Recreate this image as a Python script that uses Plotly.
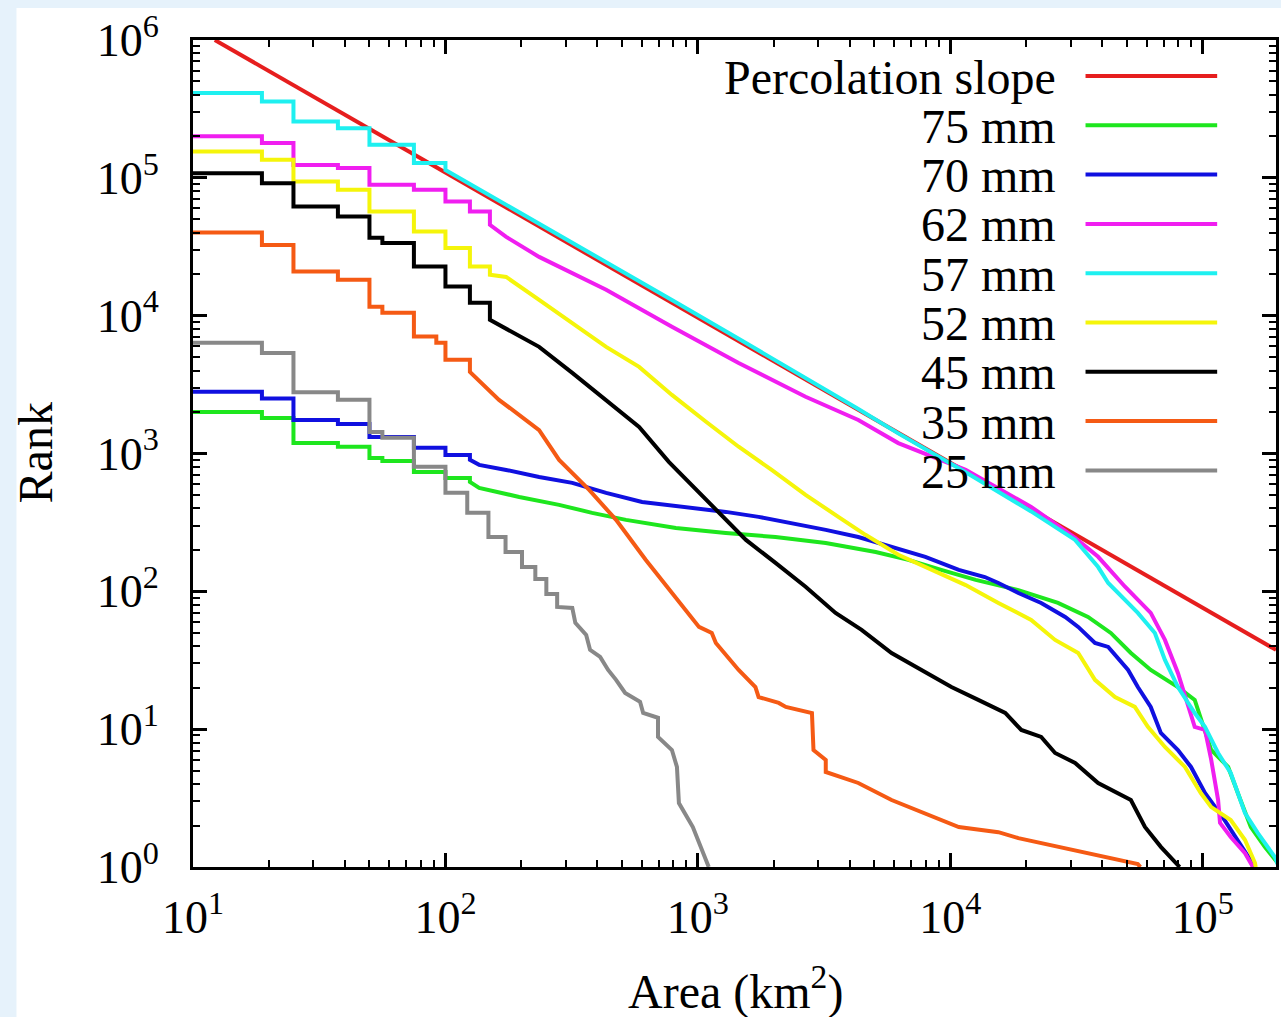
import plotly.graph_objects as go

# ---------------- data (area in km^2, rank) ----------------
perc_area = [12.2, 1.95e5]
perc_rank = [1.0e6, 37.6]

# 75 mm (green)
g75_step_area = [10, 18.75, 25, 37.5, 50, 56.25, 75, 100, 125]
g75_step_rank = [2.0e3, 1.81e3, 1.19e3, 1.12e3, 929, 884, 735, 665, 622]
g75_area = [136, 196, 282, 381, 519, 818, 1290, 2030, 3210, 5060, 6820, 9200, 1.26e4, 1.86e4,
            2.67e4, 3.51e4, 4.32e4, 5.19e4, 6.22e4, 7.97e4, 9.29e4, 1.08e5, 1.26e5, 1.41e5,
            1.55e5, 1.76e5, 1.98e5]
g75_rank = [563, 484, 424, 371, 330, 288, 265, 248, 224, 193, 169, 143, 121, 102,
            82.4, 65.2, 49.9, 35.7, 26.9, 20.2, 16.3, 7.06, 5.32, 3.06,
            1.95, 1.40, 1.07]

# 70 mm (blue)
b70_step_area = [10, 18.75, 25, 37.5, 50, 75, 100, 125]
b70_step_rank = [2.8e3, 2.51e3, 1.75e3, 1.64e3, 1.32e3, 1.1e3, 977, 899]
b70_area = [136, 174, 235, 318, 433, 601, 946, 1290, 1740, 2350, 3210, 4320, 5850, 7960,
            1.08e4, 1.37e4, 1.55e4, 1.86e4, 2.29e4, 2.85e4, 3.21e4, 3.74e4, 4.22e4, 5.06e4,
            5.53e4, 6.22e4, 6.82e4, 7.97e4, 8.98e4, 1.02e5, 1.22e5, 1.37e5, 1.55e5, 1.61e5]
b70_rank = [827, 760, 676, 612, 518, 445, 403, 377, 347, 314, 279, 248, 210, 178,
            143, 127, 115, 97.3, 82.4, 65.2, 55.2, 42.2, 39.5, 26.9,
            20.2, 14.5, 9.38, 7.06, 5.32, 3.44, 2.19, 1.57, 1.12, 1.0]

# 62 mm (magenta)
m62_step_area = [10, 18.75, 25, 37.5, 50, 75, 100, 125, 150]
m62_step_rank = [2.0e5, 1.79e5, 1.24e5, 1.18e5, 8.9e4, 8.2e4, 6.73e4, 5.69e4, 4.56e4]
m62_area = [174, 235, 433, 789, 1450, 2670, 4320, 6220, 1.15e4, 2.09e4, 3.12e4, 3.85e4,
            4.92e4, 6.22e4, 7.08e4, 7.97e4, 8.73e4, 9.29e4, 1.02e5, 1.08e5, 1.15e5, 1.17e5,
            1.29e5, 1.47e5, 1.58e5]
m62_rank = [3.73e4, 2.67e4, 1.54e4, 8.3e3, 4.54e3, 2.58e3, 1.75e3, 1.19e3, 760, 410, 244, 178,
            108, 69.7, 44.4, 25.6, 14.5, 10.4, 9.87, 5.98, 3.06, 2.09,
            1.65, 1.26, 1.0]

# 57 mm (cyan)
c57_step_area = [10, 18.75, 25, 37.5, 50, 75, 100]
c57_step_rank = [4.12e5, 3.58e5, 2.56e5, 2.29e5, 1.74e5, 1.28e5, 1.14e5]
c57_area = [174, 235, 433, 789, 1450, 2670, 4320, 6220, 1.15e4, 2.09e4, 3.12e4, 3.85e4,
            4.22e4, 5.53e4, 6.46e4, 7.08e4, 7.97e4, 9.29e4, 1.02e5, 1.15e5, 1.29e5, 1.47e5,
            1.65e5, 1.93e5, 2.0e5]
c57_rank = [6.4e4, 4.65e4, 2.45e4, 1.3e4, 6.8e3, 3.55e3, 2.1e3, 1.4e3, 730, 380, 236, 150,
            115, 69.7, 49.9, 31.8, 20.2, 13.1, 10.4, 6.72, 4.81, 2.46,
            1.77, 1.18, 1.0]

# 52 mm (yellow)
y52_step_area = [10, 18.75, 25, 37.5, 50, 75, 100, 125, 150]
y52_step_rank = [1.55e5, 1.35e5, 9.4e4, 8.2e4, 5.69e4, 4.08e4, 3.1e4, 2.27e4, 1.98e4]
y52_area = [174, 235, 318, 433, 585, 789, 1077, 1450, 1960, 2670, 3600, 4610, 6220, 8410,
            1.15e4, 1.55e4, 2.09e4, 2.6e4, 3.21e4, 3.74e4, 4.49e4, 5.38e4, 6.06e4, 7.08e4,
            8.5e4, 9.82e4, 1.08e5, 1.29e5, 1.47e5, 1.61e5, 1.62e5]
y52_rank = [1.91e4, 1.30e4, 8.87e3, 5.94e3, 4.25e3, 2.66e3, 1.70e3, 1.12e3, 760, 501, 347, 257, 184, 143,
            111, 82.4, 62, 44.4, 35.7, 22.8, 17.1, 14.5, 10.4, 7.43,
            5.32, 3.44, 2.72, 2.19, 1.57, 1.07, 1.0]

# 45 mm (black)
k45_step_area = [10, 18.75, 25, 37.5, 50, 56.25, 75, 100, 125, 150]
k45_step_rank = [1.08e5, 9.15e4, 6.19e4, 5.24e4, 3.67e4, 3.37e4, 2.27e4, 1.63e4, 1.24e4, 9.33e3]
k45_area = [235, 318, 433, 585, 767, 1178, 1550, 2030, 2670, 3510, 4450, 5850, 7680, 1.01e4,
            1.29e4, 1.65e4, 1.91e4, 2.29e4, 2.6e4, 3.12e4, 3.85e4, 5.19e4, 5.9e4, 6.82e4, 8.1e4]
k45_rank = [5.94e3, 3.85e3, 2.45e3, 1.56e3, 869, 390, 236, 161, 108, 69.7, 52.5, 35.7, 26.9, 20.2,
            16.3, 13.1, 9.87, 8.78, 6.72, 5.69, 4.07, 3.06, 1.95, 1.40, 1.0]

# 35 mm (orange)
o35_step_area = [10, 18.75, 25, 37.5, 50, 56.25, 75, 92, 100, 125]
o35_step_rank = [4.01e4, 3.26e4, 2.09e4, 1.82e4, 1.16e4, 1.05e4, 7.05e3, 6.35e3, 4.78e3, 3.91e3]
o35_area = [163, 235, 282, 371, 474, 622, 789, 1010, 1135, 1178, 1450, 1690, 1740, 2090, 2230,
            2830, 2870, 3210, 3210, 4320, 5850, 7960, 1.08e4, 1.55e4, 1.86e4, 5.53e4, 5.66e4]
o35_rank = [2.45e3, 1.48e3, 899, 544, 330, 169, 97.3, 55.2, 49.9, 42.2, 26.9, 20.2, 17.1, 15.5, 14.5,
            13.1, 7.06, 5.98, 4.89, 4.07, 3.06, 2.46, 1.95, 1.79, 1.62, 1.05, 1.0]

# 25 mm (grey)
r25_step_area = [10, 18.75, 25, 37.5, 50, 56.25, 75, 100, 122, 148, 173, 201, 227, 251, 277]
r25_step_rank = [6.35e3, 5.37e3, 2.78e3, 2.45e3, 1.43e3, 1.30e3, 800, 518, 371, 248, 193, 150, 123, 95.7, 77]
r25_area = [318, 327, 361, 374, 410, 441, 474, 515, 590, 607, 695, 695, 789, 826, 841, 955, 1104]
r25_rank = [75.8, 59, 48.3, 37.6, 33.4, 26.9, 22.8, 18.3, 15.8, 13.1, 12.1, 8.78, 7.06, 5.32, 2.91, 1.95, 1.0]

legend_labels = ["Percolation slope", "75 mm", "70 mm", "62 mm", "57 mm",
                 "52 mm", "45 mm", "35 mm", "25 mm"]
x_tick_vals = [1e1, 1e2, 1e3, 1e4, 1e5]
x_tick_text = ["10<sup>1</sup>", "10<sup>2</sup>", "10<sup>3</sup>", "10<sup>4</sup>", "10<sup>5</sup>"]
y_tick_vals = [1e0, 1e1, 1e2, 1e3, 1e4, 1e5, 1e6]
y_tick_text = ["10<sup>0</sup>", "10<sup>1</sup>", "10<sup>2</sup>", "10<sup>3</sup>",
               "10<sup>4</sup>", "10<sup>5</sup>", "10<sup>6</sup>"]

# ---------------- styling ----------------
colors = ["#e61e1e", "#1ee61e", "#1010e0", "#f01ef0", "#1ef0f0",
          "#f5f50a", "#000000", "#f55a14", "#888888"]
FONT = "Liberation Serif, Times New Roman, serif"


def rank_path(step_a, step_r, lin_a, lin_r):
    """Staircase through the discrete-area part, then straight segments."""
    xs, ys = [], []
    for i in range(len(step_a)):
        xs.append(step_a[i]); ys.append(step_r[i])
        if i + 1 < len(step_a):
            xs.append(step_a[i + 1]); ys.append(step_r[i])
    return xs + list(lin_a), ys + list(lin_r)


series = [
    (perc_area, perc_rank),
    rank_path(g75_step_area, g75_step_rank, g75_area, g75_rank),
    rank_path(b70_step_area, b70_step_rank, b70_area, b70_rank),
    rank_path(m62_step_area, m62_step_rank, m62_area, m62_rank),
    rank_path(c57_step_area, c57_step_rank, c57_area, c57_rank),
    rank_path(y52_step_area, y52_step_rank, y52_area, y52_rank),
    rank_path(k45_step_area, k45_step_rank, k45_area, k45_rank),
    rank_path(o35_step_area, o35_step_rank, o35_area, o35_rank),
    rank_path(r25_step_area, r25_step_rank, r25_area, r25_rank),
]

fig = go.Figure()
for (xs, ys), name, col in zip(series, legend_labels, colors):
    fig.add_trace(go.Scatter(x=xs, y=ys, mode="lines", name=name,
                             line=dict(color=col, width=4), showlegend=False))

# page geometry (pixels)
W, H = 1281, 1017
L, R, T, B = 193, 2, 40, 150
pw, ph = W - L - R, H - T - B


def px(xp):
    return (xp - L) / pw


def py(yp):
    return (H - B - yp) / ph


shapes = [dict(type="rect", xref="paper", yref="paper", layer="below",
               x0=px(16), x1=px(W + 5), y0=py(H + 5), y1=py(8),
               fillcolor="white", line=dict(width=0))]
annotations = []
row0, drow = 76, 49.3
for i, (name, col) in enumerate(zip(legend_labels, colors)):
    yy = row0 + i * drow
    shapes.append(dict(type="line", xref="paper", yref="paper",
                       x0=px(1088), x1=px(1220), y0=py(yy), y1=py(yy),
                       line=dict(color=col, width=4)))
    annotations.append(dict(text=name, xref="paper", yref="paper", x=px(1060), y=py(yy + 1),
                            xanchor="right", yanchor="middle", showarrow=False,
                            font=dict(family=FONT, size=48, color="black")))

annotations.append(dict(text="Rank", xref="paper", yref="paper", x=px(35), y=py(453),
                        textangle=-90, xanchor="center", yanchor="middle", showarrow=False,
                        font=dict(family=FONT, size=48, color="black")))
annotations.append(dict(text="Area (km<sup>2</sup>)", xref="paper", yref="paper", x=px(737),
                        y=py(988), xanchor="center", yanchor="middle", showarrow=False,
                        font=dict(family=FONT, size=48, color="black")))

minor_x = [m * 10 ** k for k in range(1, 6) for m in range(2, 10)]
minor_y = [m * 10 ** k for k in range(0, 6) for m in range(2, 10)]

axis_common = dict(type="log", showgrid=False, zeroline=False, showline=True,
                   linecolor="black", linewidth=3, mirror="allticks",
                   ticks="inside", ticklen=14, tickwidth=2.5, tickcolor="black",
                   tickfont=dict(family=FONT, size=46, color="black"))

fig.update_layout(
    width=W, height=H,
    margin=dict(l=L, r=R, t=T, b=B, pad=0),
    paper_bgcolor="#e6f2fb", plot_bgcolor="white",
    xaxis=dict(range=[1, 5.29], tickmode="array", tickvals=x_tick_vals, ticktext=x_tick_text,
               ticklabelstandoff=8,
               minor=dict(tickmode="array", tickvals=minor_x, ticks="inside", ticklen=7,
                          tickwidth=2, tickcolor="black"),
               **axis_common),
    yaxis=dict(range=[0, 6], tickmode="array", tickvals=y_tick_vals, ticktext=y_tick_text,
               ticklabelstandoff=22,
               minor=dict(tickmode="array", tickvals=minor_y, ticks="inside", ticklen=7,
                          tickwidth=2, tickcolor="black"),
               **axis_common),
    shapes=shapes, annotations=annotations,
    font=dict(family=FONT, color="black"),
)

fig.write_html("out.html")
